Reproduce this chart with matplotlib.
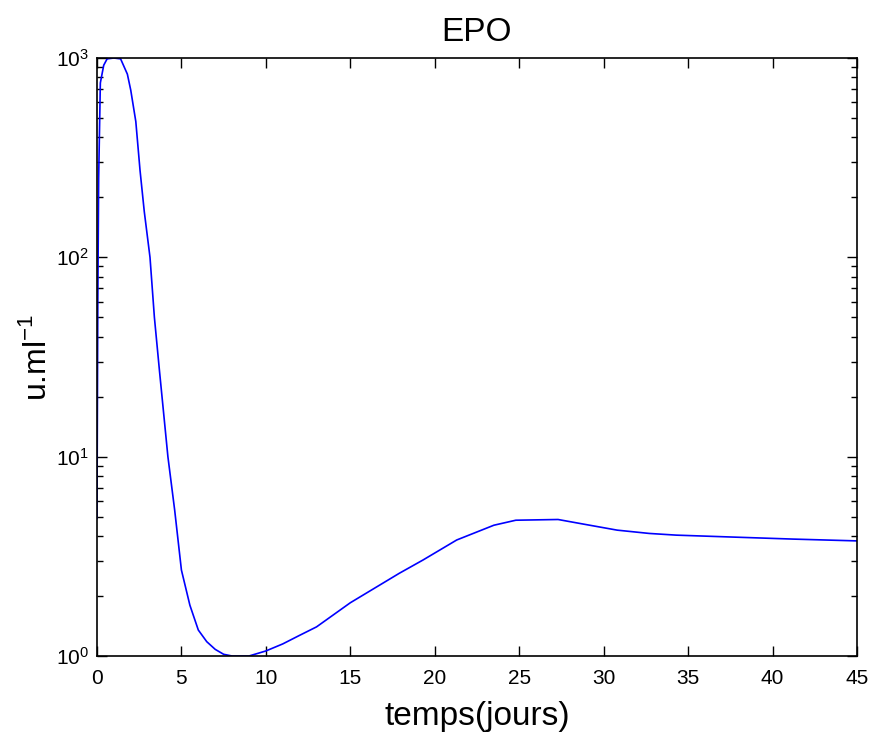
import matplotlib
matplotlib.use("Agg")
import matplotlib.pyplot as plt
import numpy as np

plt.rcParams['font.family'] = ['Liberation Sans', 'DejaVu Sans']
plt.rcParams['mathtext.fontset'] = 'custom'
plt.rcParams['mathtext.rm'] = 'Liberation Sans'

# EPO concentration over time
days = [0, 0.05, 0.1, 0.2, 0.4, 0.6, 1.0, 1.4, 1.8, 2.0, 2.3, 2.55, 2.8, 3.14,
        3.4, 3.7, 4.2, 4.6, 5.0, 5.5, 6.0, 6.5, 7.0, 7.5, 8.0, 9.0, 10, 11,
        12, 13, 15, 17.9, 19.3, 21.3, 23.5, 24.8, 27.3, 28.8, 30.8, 32.7,
        34.3, 37.3, 41.2, 45]
epo = [4.9, 60, 250, 750, 920, 990, 1000, 990, 830, 690, 480, 273, 170, 100,
       50, 27, 10, 5.4, 2.7, 1.8, 1.35, 1.18, 1.08, 1.02, 1.0, 1.0, 1.06, 1.15,
       1.27, 1.4, 1.85, 2.6, 3.03, 3.82, 4.53, 4.8, 4.84, 4.59, 4.28, 4.12,
       4.04, 3.96, 3.86, 3.78]

xticks = [0, 5, 10, 15, 20, 25, 30, 35, 40, 45]

fig = plt.figure(figsize=(8.72, 7.39), dpi=100)
ax = fig.add_axes([0.1112, 0.1123, 0.8716, 0.8092])

ax.semilogy(days, epo, color='#0000ff', linewidth=1.2)

ax.set_xlim(0, 45)
ax.set_ylim(1, 1000)
ax.set_xticks(xticks)
ax.tick_params(which='both', direction='in', top=True, right=True,
               labelsize=15, width=1)
ax.tick_params(which='major', length=7)
ax.tick_params(which='minor', length=4)
ax.tick_params(axis='x', which='major', pad=9)
ax.tick_params(axis='y', which='major', pad=6)
for s in ax.spines.values():
    s.set_linewidth(1.2)

ax.set_title('EPO', fontsize=24, pad=12)
ax.set_xlabel('temps(jours)', fontsize=24, labelpad=10)
ax.set_ylabel('u.ml$^{-1}$', fontsize=23, labelpad=2)

fig.savefig('out.png', dpi=100)
